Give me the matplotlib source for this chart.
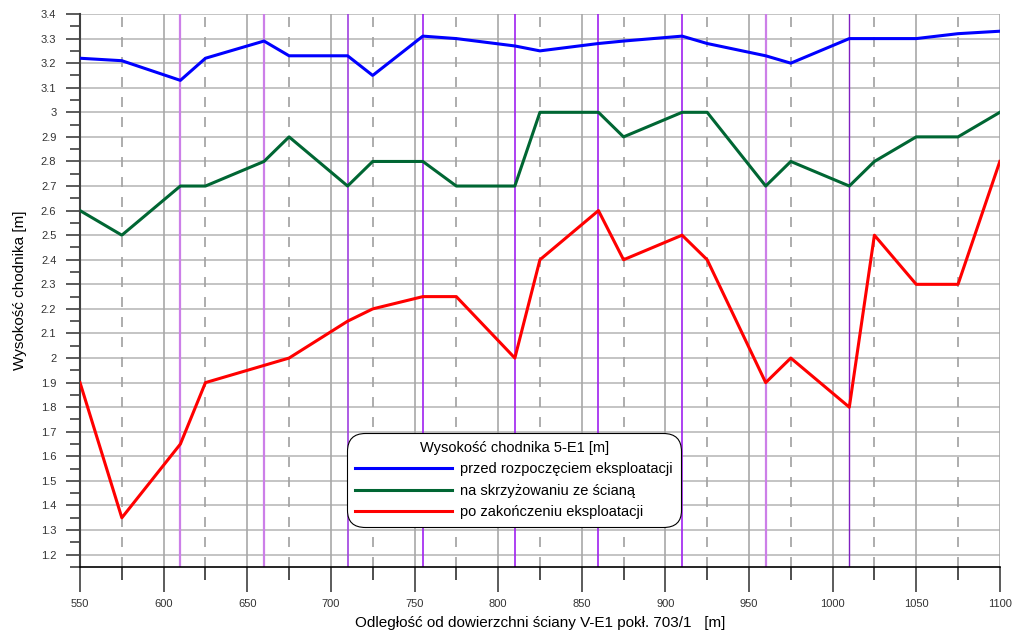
import matplotlib.pyplot as plt
import numpy as np
from matplotlib.ticker import MultipleLocator, FuncFormatter

plt.rcParams['font.family'] = ['Liberation Sans', 'DejaVu Sans']

# odległość [m]
x = [550, 575, 610, 625, 660, 675, 710, 725, 755, 775, 810, 825,
     860, 875, 910, 925, 960, 975, 1010, 1025, 1050, 1075, 1100]

przed = [3.22, 3.21, 3.13, 3.22, 3.29, 3.23, 3.23, 3.15, 3.31, 3.30, 3.27, 3.25,
         3.28, 3.29, 3.31, 3.28, 3.23, 3.20, 3.30, 3.30, 3.30, 3.32, 3.33]
skrzyz = [2.6, 2.5, 2.7, 2.7, 2.8, 2.9, 2.7, 2.8, 2.8, 2.7, 2.7, 3.0,
          3.0, 2.9, 3.0, 3.0, 2.7, 2.8, 2.7, 2.8, 2.9, 2.9, 3.0]
po = [1.9, 1.35, 1.65, 1.9, 1.97, 2.0, 2.15, 2.2, 2.25, 2.25, 2.0, 2.4,
      2.6, 2.4, 2.5, 2.4, 1.9, 2.0, 1.8, 2.5, 2.3, 2.3, 2.8]

# pionowe linie - położenie ściany
sciana_x = [610, 660, 710, 755, 810, 860, 910, 960, 1010]
sciana_kol = ["#cc7fe8", "#cc7fe8", "#a040e0", "#a020f0", "#a020f0",
              "#a020f0", "#a020f0", "#cc7fe8", "#8020c0"]
sciana_lw = [1.6, 1.6, 1.2, 1.2, 1.2, 1.2, 1.2, 1.6, 1.0]

fig = plt.figure(figsize=(10.13, 6.37), dpi=100)
ax = fig.add_axes([0.079, 0.110, 0.908, 0.868])

ax.set_xlim(550, 1100)
ax.set_ylim(1.15, 3.4)

# siatka pozioma
for yv in np.arange(1.2, 3.41, 0.1):
    ax.axhline(yv, color="#c4c4c4", lw=1.4, zorder=1)
# siatka pionowa
for xv in range(600, 1101, 50):
    ax.axvline(xv, color="#a8a8a8", lw=1.2, zorder=1)
for xv in range(575, 1100, 50):
    ax.axvline(xv, color="#a0a0a0", lw=1.2, ls=(0, (6, 6)), zorder=1)

for xv, c, lw in zip(sciana_x, sciana_kol, sciana_lw):
    ax.axvline(xv, color=c, lw=lw, zorder=2)

ax.plot(x, przed, color="#0000ff", lw=2.2, label="przed rozpoczęciem eksploatacji", zorder=3)
ax.plot(x, skrzyz, color="#006633", lw=2.2, label="na skrzyżowaniu ze ścianą", zorder=3)
ax.plot(x, po, color="#ff0000", lw=2.2, label="po zakończeniu eksploatacji", zorder=3)

for s in ["top", "right"]:
    ax.spines[s].set_visible(False)
ax.spines["left"].set_color("#404040")
ax.spines["left"].set_linewidth(1.5)
ax.spines["bottom"].set_color("black")
ax.spines["bottom"].set_linewidth(1.2)

ax.xaxis.set_major_locator(MultipleLocator(50))
ax.xaxis.set_minor_locator(MultipleLocator(25))
ax.yaxis.set_major_locator(MultipleLocator(0.1))
ax.yaxis.set_minor_locator(MultipleLocator(0.05))
ax.yaxis.set_major_formatter(FuncFormatter(lambda v, p: f"{round(v, 2):g}" if v >= 1.19 else ""))

ax.tick_params(axis="x", which="major", length=18, width=1.2, color="#404040",
               labelsize=8, labelcolor="#333333", pad=5)
ax.tick_params(axis="x", which="minor", length=9, width=1.2, color="#303030")
ax.tick_params(axis="y", which="major", length=10, width=1.2, color="#404040",
               labelsize=8, labelcolor="#333333", pad=7)
ax.tick_params(axis="y", which="minor", length=7, width=1.2, color="#404040")

ax.set_xlabel("Odległość od dowierzchni ściany V-E1 pokł. 703/1   [m]", fontsize=11, labelpad=5)
ax.set_ylabel("Wysokość chodnika [m]", fontsize=11, labelpad=10)

leg = ax.legend(title="Wysokość chodnika 5-E1 [m]", loc="lower left",
                bbox_to_anchor=(0.2826, 0.059), fontsize=10.5, title_fontsize=10.5,
                handlelength=6.6, handletextpad=0.6, framealpha=1, edgecolor="black",
                fancybox=True, borderpad=0.55, labelspacing=0.5)
leg.get_frame().set_linewidth(0.8)
leg.get_frame().set_boxstyle("round", pad=0, rounding_size=1.2)

fig.savefig("out.png", dpi=100)
